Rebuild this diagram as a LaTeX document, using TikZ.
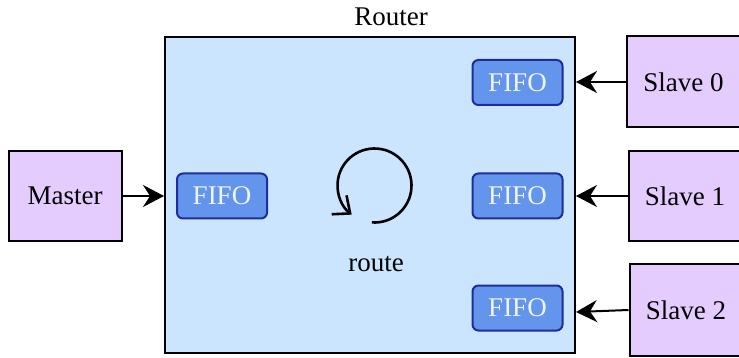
\documentclass[tikz,border=0pt]{standalone}
\usepackage{fontspec}
\setmainfont{Liberation Serif}
\usetikzlibrary{arrows.meta}
\definecolor{routerfill}{HTML}{CCE5FF}
\definecolor{agentfill}{HTML}{E5CCFF}
\definecolor{fifofill}{HTML}{6495ED}
\definecolor{fifoline}{HTML}{1E2C9C}
\definecolor{fifotext}{HTML}{F0F4FF}
\tikzset{
  agent/.style={draw=black, line width=2pt, fill=agentfill, minimum width=113pt,
    minimum height=90pt, inner sep=0pt, font=\fontsize{27}{31}\selectfont},
  routerbox/.style={draw=black, line width=2pt, fill=routerfill, minimum width=410pt,
    minimum height=316pt, inner sep=0pt},
  fifo/.style={draw=fifoline, line width=2pt, fill=fifofill, rounded corners=6pt,
    minimum width=90pt, minimum height=45pt, inner sep=0pt, text=fifotext,
    font=\fontsize{27}{31}\selectfont},
  label/.style={inner sep=0pt, font=\fontsize{27}{31}\selectfont},
  link/.style={line width=2pt, -{Stealth[length=21pt, width=22pt, inset=7pt]}},
}
\begin{document}
\begin{tikzpicture}[x=1pt, y=-1pt]
  \useasboundingbox (0,0) rectangle (739,358);
  \clip (0,0) rectangle (739,358);

  % router with its queues
  \node[routerbox] (router) at (370,195) {};
  \node[label] (rtitle) at (391,17) {Router};
  \node[fifo] (fifoM) at (222,196) {FIFO};
  \node[fifo] (fifo0) at (517.5,82.5) {FIFO};
  \node[fifo] (fifo1) at (517.5,196) {FIFO};
  \node[fifo] (fifo2) at (517.5,308) {FIFO};

  % routing loop (y axis points down, so angles run clockwise here)
  \coordinate (loopc) at (374.5,185.5);
  \draw[line width=2.6pt, -{Straight Barb[length=14pt, width=24pt, line width=2.6pt]}]
    ([shift={(94:37)}]loopc) arc[start angle=94, end angle=-232, radius=37];
  \node[label] (route) at (376,264) {route};

  % master and slaves
  \node[agent] (master) at (65,196) {\raisebox{-1pt}{Master}};
  \node[agent, minimum height=91pt] (slave0) at (683.5,82) {\raisebox{-1pt}{Slave 0}};
  \node[agent] (slave1) at (685,196) {\raisebox{-1pt}{Slave 1}};
  \node[agent, minimum height=92pt] (slave2) at (686,310) {\raisebox{-1pt}{Slave 2}};

  % links into the router
  \coordinate (in2) at (576,312);
  \draw[link] (master.east) -- (master.east -| router.west);
  \draw[link] (slave0.west) -- (slave0.west -| router.east);
  \draw[link] (slave1.west) -- (slave1.west -| router.east);
  \draw[link] (slave2.west) -- (in2);
\end{tikzpicture}
\end{document}
